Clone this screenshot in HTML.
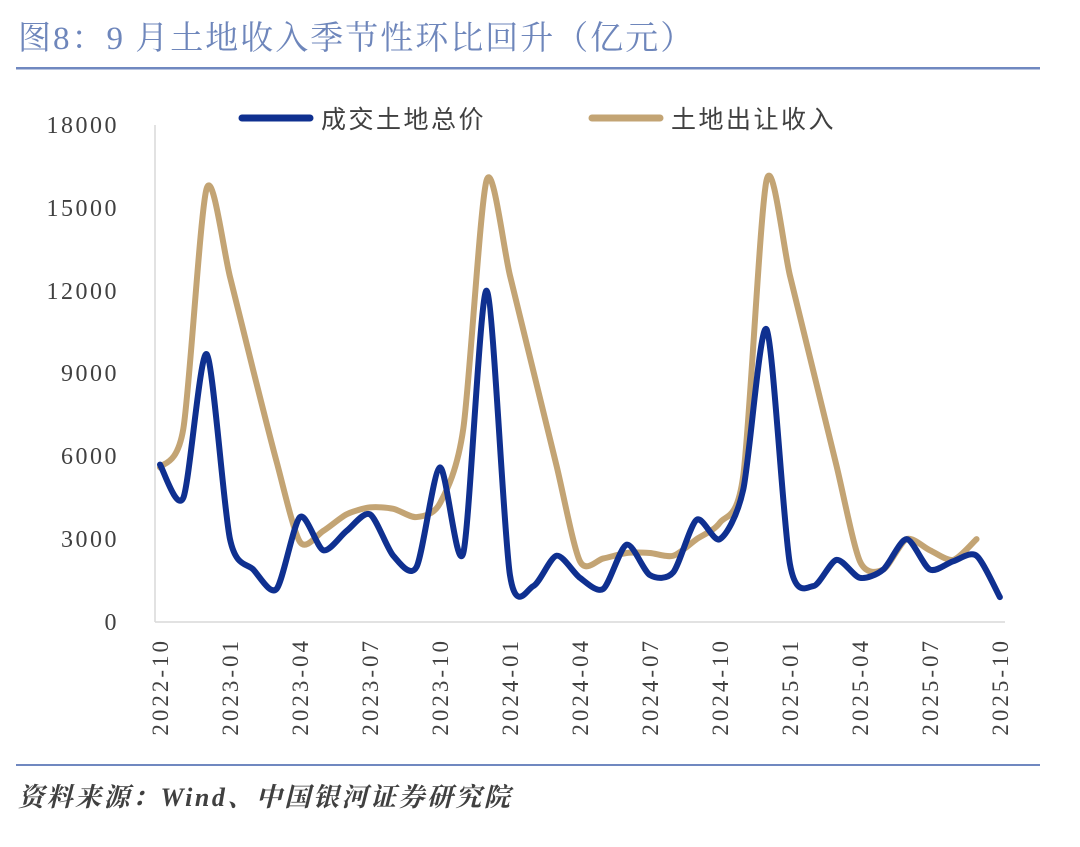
<!DOCTYPE html>
<html><head><meta charset="utf-8"><style>
body{margin:0;background:#fff;width:1080px;height:847px;overflow:hidden;}
svg{display:block}
</style></head><body>
<svg id="s" width="1080" height="847" xmlns="http://www.w3.org/2000/svg">
<text x="18" y="49" font-family="'Liberation Serif','Noto Serif CJK SC',serif" font-size="33" letter-spacing="2" fill="#6e86bb">图8：9 月土地收入季节性环比回升（亿元）</text>
<rect x="16" y="67" width="1024" height="2.5" fill="#7088c0"/>
<line x1="155" y1="125" x2="155" y2="622" stroke="#d9d9d9" stroke-width="1.5"/>
<line x1="155" y1="622" x2="1005" y2="622" stroke="#d9d9d9" stroke-width="1.5"/>
<g font-family="'Liberation Serif',serif" font-size="24" letter-spacing="2.5" fill="#404040" text-anchor="end">
<text x="119" y="133">18000</text><text x="119" y="216">15000</text><text x="119" y="299">12000</text>
<text x="119" y="381">9000</text><text x="119" y="464">6000</text><text x="119" y="547">3000</text><text x="119" y="630">0</text>
</g>
<g id="xl" font-family="'Liberation Serif',serif" font-size="23" letter-spacing="3" fill="#404040" text-anchor="end"></g>
<line x1="242" y1="118" x2="310" y2="118" stroke="#0f3090" stroke-width="7" stroke-linecap="round"/>
<text x="321" y="128" font-family="'Liberation Sans','Noto Sans CJK SC',sans-serif" font-size="25" letter-spacing="2.5" fill="#404040">成交土地总价</text>
<line x1="592" y1="118" x2="660" y2="118" stroke="#c3a474" stroke-width="7" stroke-linecap="round"/>
<text x="671" y="128" font-family="'Liberation Sans','Noto Sans CJK SC',sans-serif" font-size="25" letter-spacing="2.5" fill="#404040">土地出让收入</text>
<path id="tan" fill="none" stroke="#c3a474" stroke-width="6" stroke-linejoin="round" stroke-linecap="round"/>
<path id="blue" fill="none" stroke="#0f3090" stroke-width="6" stroke-linejoin="round" stroke-linecap="round"/>
<rect x="16" y="764" width="1024" height="2" fill="#7088c0"/>
<text x="18" y="806" font-family="'Liberation Serif','Noto Serif CJK SC',serif" font-size="26" letter-spacing="2.5" font-style="italic" font-weight="bold" fill="#404040">资料来源：Wind、中国银河证券研究院</text>
</svg>
<script>
var X=i=>160+i*23.33, Y=v=>622-v*497/18000;
var blue=[5700,4500,9700,3000,1900,1200,3800,2600,3300,3900,2400,2000,5600,2500,12000,1700,1300,2400,1600,1200,2800,1700,1800,3700,3000,4800,10600,2100,1300,2250,1600,1900,3000,1900,2200,2400,900];
var tan=[5600,7000,15700,12500,9100,5800,2900,3300,3900,4150,4100,3800,4300,7000,16000,12550,9100,5650,2200,2300,2500,2500,2400,3000,3600,5300,16000,12550,9100,5650,2200,1900,3000,2600,2250,3000];
function path(pts,tt){var d="M"+pts[0][0]+","+pts[0][1];for(var i=0;i<pts.length-1;i++){var p0=pts[i-1]||pts[i],p1=pts[i],p2=pts[i+1],p3=pts[i+2]||p2;var t=tt/3;d+=" C"+(p1[0]+(p2[0]-p0[0])*t)+","+(p1[1]+(p2[1]-p0[1])*t)+" "+(p2[0]-(p3[0]-p1[0])*t)+","+(p2[1]-(p3[1]-p1[1])*t)+" "+p2[0]+","+p2[1];}return d;}
document.getElementById("blue").setAttribute("d",path(blue.map((v,i)=>[X(i),Y(v)]),0.4));
document.getElementById("tan").setAttribute("d",path(tan.map((v,i)=>[X(i),Y(v)]),0.4));
var g=document.getElementById("xl"),labs=["2022-10","2023-01","2023-04","2023-07","2023-10","2024-01","2024-04","2024-07","2024-10","2025-01","2025-04","2025-07","2025-10"];
labs.forEach((l,k)=>{var x=X(k*3)+8;var t=document.createElementNS("http://www.w3.org/2000/svg","text");t.setAttribute("transform","translate("+x+",638) rotate(-90)");t.textContent=l;g.appendChild(t);});
</script>
</body></html>
